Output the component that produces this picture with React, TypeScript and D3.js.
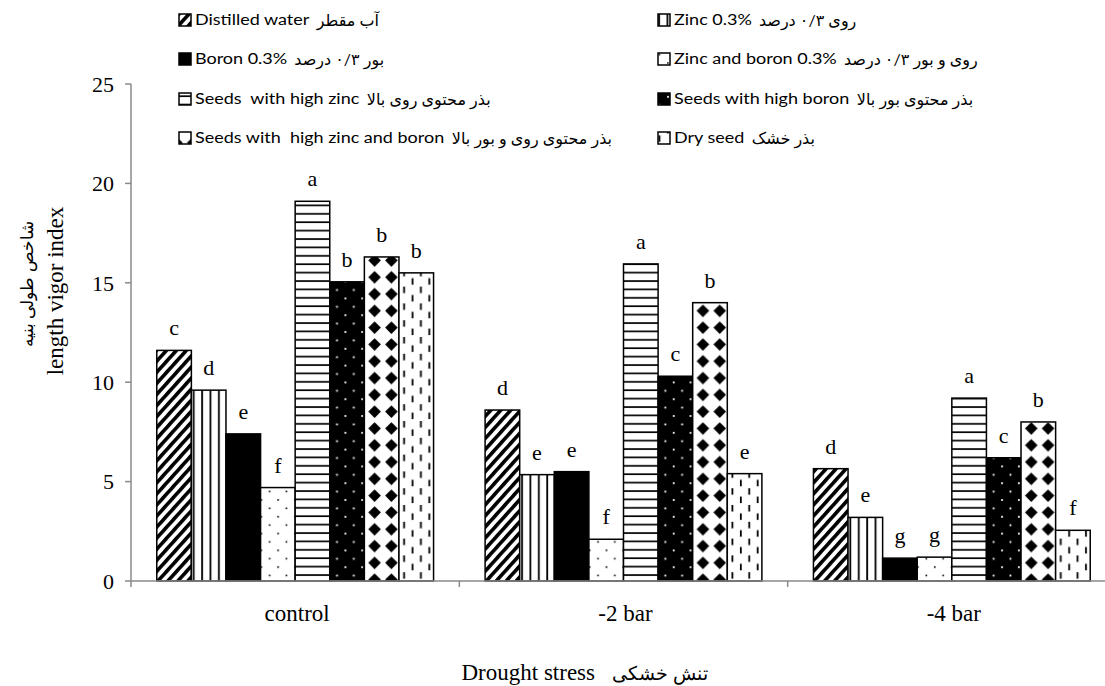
import React from 'react';
import * as d3 from 'd3';

const categories = ['control', '-2 bar', '-4 bar'];
const seriesKeys = ['dw', 'zn', 'b', 'znb', 'hzn', 'hb', 'hznb', 'dry'];
const seriesEnglish = [
  'Distilled water',
  'Zinc 0.3%',
  'Boron 0.3%',
  'Zinc and boron 0.3%',
  'Seeds  with high zinc',
  'Seeds with high boron',
  'Seeds with  high zinc and boron',
  'Dry seed',
];
const seriesPersian = [
  'آب مقطر',
  'روی ۰/۳ درصد',
  'بور ۰/۳ درصد',
  'روی و بور ۰/۳ درصد',
  'بذر محتوی روی بالا',
  'بذر محتوی بور بالا',
  'بذر محتوی روی و بور بالا',
  'بذر خشک',
];
const controlValues = [11.6, 9.6, 7.4, 4.7, 19.1, 15.05, 16.3, 15.5];
const bar2Values = [8.6, 5.35, 5.5, 2.1, 15.95, 10.3, 14.0, 5.4];
const bar4Values = [5.65, 3.2, 1.15, 1.2, 9.2, 6.2, 8.0, 2.55];
const controlLetters = ['c', 'd', 'e', 'f', 'a', 'b', 'b', 'b'];
const bar2Letters = ['d', 'e', 'e', 'f', 'a', 'c', 'b', 'e'];
const bar4Letters = ['d', 'e', 'g', 'g', 'a', 'c', 'b', 'f'];
const yTicks = [0, 5, 10, 15, 20, 25];
const yTitleEnglish = 'length vigor index';
const yTitlePersian = 'شاخص طولی بنیه';
const xTitleEnglish = 'Drought stress';
const xTitlePersian = 'تنش خشکی';

const groupValues = [controlValues, bar2Values, bar4Values];
const groupLetters = [controlLetters, bar2Letters, bar4Letters];

const W = 1105;
const H = 686;
const serif = "'Liberation Serif', 'Times New Roman', serif";
const sans = "Lato, 'DejaVu Sans', sans-serif";
const axisColor = '#8a8a8a';
const legendFontSize = 15;
const legendStretch = 1.2;

let ctx: CanvasRenderingContext2D | null = null;
function measure(text: string, font: string): number {
  if (!ctx) ctx = document.createElement('canvas').getContext('2d');
  if (!ctx) return text.length * 7;
  ctx.font = font;
  return ctx.measureText(text).width;
}

export default function App() {
  const x = d3.scaleBand<string>().domain(categories).range([131, 1116]).paddingInner(0).paddingOuter(0);
  const inner = d3.scaleBand<string>().domain(seriesKeys).range([0, x.bandwidth()]).paddingInner(0).paddingOuter(0.745);
  const y = d3.scaleLinear().domain([0, 25]).range([581, 84]);

  const P = 8.4;
  const fills = seriesKeys.map((k) => `url(#pat-${k})`);
  fills[2] = '#000';

  const legendCols = [179, 658];
  const legendRows = [20, 59, 99, 138];

  return (
    <svg width={W} height={H} style={{ position: 'absolute', left: 0, top: 0, background: '#fff' }}>
      <defs>
        <pattern id="pat-dw" patternUnits="userSpaceOnUse" width={7.4} height={7.4} patternTransform="rotate(42)">
          <rect width={7.4} height={7.4} fill="#fff" />
          <rect x={0} y={0} width={3.6} height={7.4} fill="#000" />
        </pattern>
        <pattern id="pat-zn" patternUnits="userSpaceOnUse" width={P} height={P}>
          <rect width={P} height={P} fill="#fff" />
          <rect x={3} y={0} width={1.8} height={P} fill="#000" />
        </pattern>
        <pattern id="pat-znb" patternUnits="userSpaceOnUse" width={2 * P} height={2 * P}>
          <rect width={2 * P} height={2 * P} fill="#fff" />
          <rect x={3.5} y={3.5} width={1.6} height={1.6} fill="#000" />
          <rect x={3.5 + P} y={3.5 + P} width={1.6} height={1.6} fill="#000" />
        </pattern>
        <pattern id="pat-hzn" patternUnits="userSpaceOnUse" width={P} height={P}>
          <rect width={P} height={P} fill="#fff" />
          <rect x={0} y={3} width={P} height={1.7} fill="#000" />
        </pattern>
        <pattern id="pat-hb" patternUnits="userSpaceOnUse" width={2 * P} height={2 * P}>
          <rect width={2 * P} height={2 * P} fill="#000" />
          <rect x={3.5} y={3.5} width={1.8} height={1.8} fill="#fff" />
          <rect x={3.5 + P} y={3.5 + P} width={1.8} height={1.8} fill="#fff" />
        </pattern>
        <pattern id="pat-hznb" patternUnits="userSpaceOnUse" width={2 * P} height={2 * P}>
          <rect width={2 * P} height={2 * P} fill="#fff" />
          <path d={`M${P},${P - 6.3} L${P + 6.3},${P} L${P},${P + 6.3} L${P - 6.3},${P} Z`} fill="#000" />
        </pattern>
        <pattern id="pat-dry" patternUnits="userSpaceOnUse" width={2 * P} height={2 * P}>
          <rect width={2 * P} height={2 * P} fill="#fff" />
          <rect x={3.4} y={1} width={1.8} height={6.5} fill="#000" />
          <rect x={3.4 + P} y={1 + P} width={1.8} height={6.5} fill="#000" />
        </pattern>
      </defs>

      {/* y axis */}
      <line x1={131} x2={131} y1={y(25)} y2={y(0)} stroke={axisColor} strokeWidth={1.5} />
      {yTicks.map((t) => (
        <g key={t}>
          <line x1={125} x2={131} y1={y(t)} y2={y(t)} stroke={axisColor} strokeWidth={1.5} />
          <text x={114} y={y(t)} dy="0.35em" textAnchor="end" fontFamily={serif} fontSize={22} fill="#000">
            {t}
          </text>
        </g>
      ))}

      {/* bars */}
      {categories.map((c, gi) => (
        <g key={c} transform={`translate(${x(c)},0)`}>
          {seriesKeys.map((k, si) => {
            const v = groupValues[gi][si];
            const bx = inner(k)!;
            return (
              <g key={k}>
                <rect
                  x={bx}
                  y={y(v)}
                  width={inner.bandwidth()}
                  height={y(0) - y(v)}
                  fill={fills[si]}
                  stroke="#000"
                  strokeWidth={1.5}
                />
                <text
                  x={bx + inner.bandwidth() / 2}
                  y={y(v) - 15}
                  textAnchor="middle"
                  fontFamily={serif}
                  fontSize={22}
                  fill="#000"
                >
                  {groupLetters[gi][si]}
                </text>
              </g>
            );
          })}
        </g>
      ))}

      {/* x axis */}
      <line x1={131} x2={W} y1={y(0)} y2={y(0)} stroke={axisColor} strokeWidth={1.5} />
      {[...categories.map((c) => x(c)!), 1116].map((px, i) => (
        <line key={i} x1={px} x2={px} y1={y(0)} y2={y(0) + 6} stroke={axisColor} strokeWidth={1.5} />
      ))}
      {categories.map((c) => (
        <text
          key={c}
          x={x(c)! + x.bandwidth() / 2 + 2}
          y={621}
          textAnchor="middle"
          fontFamily={serif}
          fontSize={23}
          fill="#000"
        >
          {c}
        </text>
      ))}

      {/* axis titles */}
      <text x={595} y={680} textAnchor="end" fontFamily={serif} fontSize={23} fill="#000">
        {xTitleEnglish}
      </text>
      <text x={612} y={680} textAnchor="start" fontFamily={serif} fontSize={19} fill="#000">
        {xTitlePersian}
      </text>
      <text transform={`translate(63,291) rotate(-90)`} textAnchor="middle" fontFamily={serif} fontSize={23} fill="#000">
        {yTitleEnglish}
      </text>
      <text transform={`translate(33,284) rotate(-90)`} textAnchor="middle" fontFamily={serif} fontSize={17} fill="#000">
        {yTitlePersian}
      </text>

      {/* legend */}
      {seriesKeys.map((k, i) => {
        const lx = legendCols[i % 2];
        const ly = legendRows[Math.floor(i / 2)];
        const ew = measure(seriesEnglish[i], `${legendFontSize}px Lato`) * legendStretch;
        return (
          <g key={k}>
            <rect x={lx} y={ly - 6} width={12} height={12} fill={fills[i]} stroke="#000" strokeWidth={1.5} />
            <text
              transform={`translate(${lx + 16},${ly}) scale(${legendStretch},1)`}
              dy="0.35em"
              fontFamily={sans}
              fontSize={legendFontSize}
              fill="#000"
              style={{ whiteSpace: 'pre' }}
            >
              {seriesEnglish[i]}
            </text>
            <text x={lx + 16 + ew + 7} y={ly} dy="0.35em" fontFamily={sans} fontSize={16} fill="#000">
              {seriesPersian[i]}
            </text>
          </g>
        );
      })}
    </svg>
  );
}
